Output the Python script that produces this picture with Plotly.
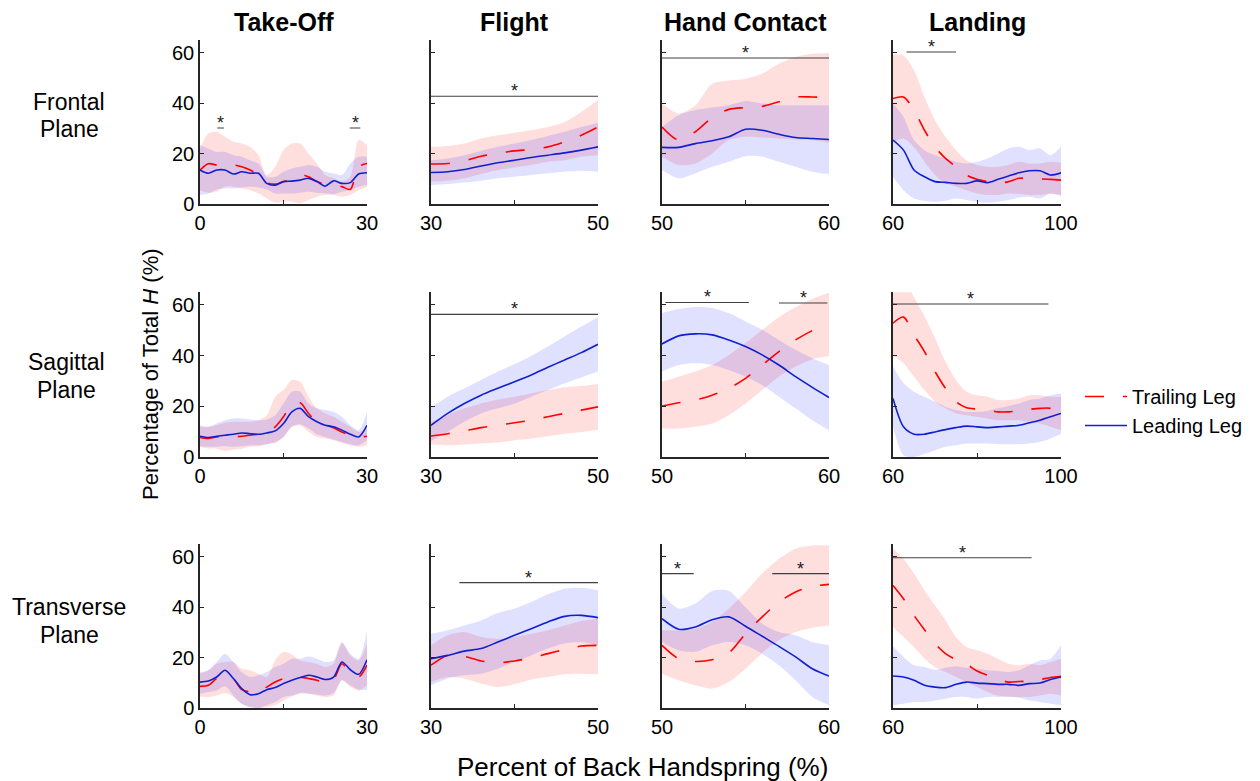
import plotly.graph_objects as go

# ---------------- x grids (percent of back handspring) ----------------
x_takeoff = [0, 1.5, 3, 4.5, 6, 7.5, 9, 10.5, 12, 13.5, 15, 16.5, 18, 19.5, 21, 22.5, 24, 25.5, 27, 28.5, 30]
x_flight = [30, 32, 34, 36, 38, 40, 42, 44, 46, 48, 50]
x_hand = [50, 51, 52, 53, 54, 55, 56, 57, 58, 59, 60]
x_landing = [60, 62.5, 65, 67.5, 70, 72.5, 75, 77.5, 80, 82.5, 85, 87.5, 90, 92.5, 95, 97.5, 100]

# ---------------- Frontal plane ----------------
fr_to_trail = [13.5, 16, 15.5, 15.5, 15.5, 14.8, 13.5, 11.5, 8.5, 7.9, 8.9, 10.2, 11.8, 10.8, 8.9, 7.9, 7.5, 6.9, 5.8, 14.8, 16.1]
fr_to_trail_lo = [5.5, 4.5, 4.9, 6.9, 6.9, 6.2, 5.5, 4.2, 2.2, 0.5, 0.9, 0.9, 0.3, 1.6, 2.9, 3.6, 3.6, 2.9, 3.6, 5.5, 6.9]
fr_to_trail_hi = [22, 28, 28.7, 26.7, 24.7, 24, 22.7, 19.4, 11.5, 14.8, 21.4, 24, 24, 20, 16.1, 11.5, 10.2, 8.9, 10.8, 25.4, 23.4]
fr_to_lead = [13.5, 12.2, 13.5, 13.5, 11.9, 12.8, 12.2, 12.2, 8.2, 7.5, 8.9, 9.1, 9.5, 10.2, 8.9, 7.1, 9.2, 8.2, 8.5, 11.9, 12.4]
fr_to_lead_lo = [3.6, 4.2, 5.8, 6.2, 6.2, 6.6, 6.9, 6.6, 5.8, 4.2, 4.2, 4.2, 4.5, 4.9, 4.5, 4.2, 4, 4.9, 5.5, 6.9, 7.5]
fr_to_lead_hi = [23.4, 22, 20.7, 20.7, 19.4, 18.8, 17.4, 16.1, 10.8, 10.8, 12.8, 14.1, 14.8, 15.5, 14.8, 12.8, 12.2, 11.5, 16.1, 18.8, 18.8]

fr_fl_trail = [15.9, 16.1, 17.2, 19, 20.1, 21.1, 21.7, 22.7, 24.7, 27.3, 30.6]
fr_fl_trail_lo = [8.9, 9.2, 10.2, 11.9, 13.5, 14.5, 15.5, 16.8, 17.4, 18.8, 19.4]
fr_fl_trail_hi = [22.7, 23, 24, 26, 27.3, 28.3, 29.3, 30.6, 32.6, 36.6, 41.2]
fr_fl_lead = [12.5, 12.8, 13.7, 15.1, 16.4, 17.4, 18.5, 19.4, 20.3, 21.4, 22.7]
fr_fl_lead_lo = [7.5, 7.9, 8.5, 9.2, 10.2, 10.8, 11.5, 12.2, 12.8, 13.2, 12.8]
fr_fl_lead_hi = [17.4, 18.1, 19.4, 21.1, 22.7, 24, 25.4, 27, 28.7, 30.6, 32.2]

fr_hc_trail = [30.6, 25.4, 28.7, 34.3, 37.6, 38.3, 38.8, 40.6, 42.5, 42.5, 42.3]
fr_hc_trail_lo = [18.8, 15.5, 16.1, 20.1, 25.4, 26.7, 26.4, 26, 25.6, 25.4, 24.3]
fr_hc_trail_hi = [39.9, 35.9, 39.2, 47.8, 49.1, 49.8, 51.8, 55.7, 58.4, 59.7, 60]
fr_hc_lead = [22.5, 22.5, 24, 25.1, 26.7, 29.7, 29.3, 27.7, 26.4, 26, 25.6]
fr_hc_lead_lo = [13.5, 10.2, 12.2, 14.8, 16.8, 19, 18.8, 16.8, 14.8, 12.8, 11.9]
fr_hc_lead_hi = [30.6, 35.3, 37.3, 38.3, 39.2, 40.9, 39.9, 39.2, 39.2, 39.2, 39.2]

fr_la_trail = [41.9, 42.5, 37.3, 29.3, 22.7, 18.1, 14.8, 11.5, 9.8, 8.9, 8.2, 8.9, 10.2, 10.2, 10, 9.8, 9.5]
fr_la_trail_lo = [24.4, 26, 22.5, 16.8, 11.5, 8.2, 6.9, 5.5, 4.2, 3.6, 3.6, 4.2, 4, 3.6, 3.6, 4.2, 3.6]
fr_la_trail_hi = [59.4, 59, 53.1, 42.5, 33.3, 26.7, 21.4, 17.4, 15.5, 14.8, 14.8, 15.5, 16.8, 16.1, 16.1, 16.8, 16.4]
fr_la_lead = [25.4, 21.4, 13.5, 10.8, 8.9, 8.6, 8.2, 8.2, 9.2, 8.5, 9.8, 11.1, 12.4, 13.2, 13.2, 11.5, 12.4]
fr_la_lead_lo = [10.8, 5.5, 2.2, 1.3, 0.9, 1.3, 2.2, 1.6, 0.9, 0.5, 0.9, 1.6, 2.6, 2.9, 2.2, 4.2, 3.2]
fr_la_lead_hi = [39.9, 34.6, 25.4, 21.4, 19.4, 18.1, 16.8, 16.1, 16.8, 18.1, 20.1, 22.1, 22.7, 21.4, 22.1, 19.4, 22.7]

# ---------------- Sagittal plane ----------------
sa_to_trail = [7.7, 7.3, 7.9, 7.7, 7.9, 8.2, 8.6, 9, 9.5, 11.9, 15.9, 20.9, 21.4, 17.2, 13.9, 12.9, 11.5, 9.9, 8.6, 7.9, 8.2]
sa_to_trail_lo = [4, 3.3, 3.3, 2.4, 2.9, 3.3, 4, 4.2, 5, 5.5, 7.9, 11.9, 12.5, 9.9, 7.9, 7.3, 6.6, 5.5, 4.6, 4, 4.6]
sa_to_trail_hi = [11.9, 11.9, 12.5, 13.5, 13.9, 13.9, 13.9, 14.5, 16.5, 23.8, 26.4, 30.4, 29.7, 23.8, 19.2, 17.2, 15.9, 13.9, 11.9, 9.9, 11.2]
sa_to_lead = [8.2, 7.7, 8.2, 8.6, 9, 9.5, 9.2, 9, 9.5, 10.3, 13.2, 17.8, 19.2, 15.9, 13.9, 12.5, 11.9, 10.6, 9, 7.9, 12.5]
sa_to_lead_lo = [4.2, 4, 4, 4.2, 4, 4.2, 4.6, 4.6, 5, 5.9, 7.9, 11.9, 12.9, 11.2, 9, 7.9, 6.9, 5.9, 5, 4.6, 6.6]
sa_to_lead_hi = [12.5, 11.9, 13.2, 14.5, 15.2, 15.2, 14.8, 14.5, 14.8, 16.5, 21.1, 25.8, 25.8, 21.1, 19.2, 18.5, 17.8, 15.9, 12.5, 10.6, 17.8]

sa_fl_trail = [8.3, 9.2, 10.3, 11.6, 12.5, 13.5, 14.5, 15.9, 17.2, 18.5, 19.8]
sa_fl_trail_lo = [5, 4.6, 4.9, 5.3, 5.7, 6.6, 7.3, 8.2, 9.2, 9.9, 10.8]
sa_fl_trail_hi = [13.9, 16.5, 19.2, 21.1, 22.7, 23.8, 25.1, 26.4, 27.5, 28, 28.8]
sa_fl_lead = [12.5, 17.2, 21.1, 24.4, 27.1, 29.7, 32.4, 35.4, 38.3, 41.2, 44.5]
sa_fl_lead_lo = [6.3, 9.9, 13.9, 17.2, 19.2, 21.1, 23.8, 26.4, 29.1, 31.4, 33.7]
sa_fl_lead_hi = [19.6, 23.8, 27.1, 30.4, 33.7, 36.7, 39.9, 43.6, 47.6, 51.5, 55.2]

sa_hc_trail = [20.1, 21.4, 22.5, 24.4, 27.1, 31, 36.3, 41.6, 46.2, 49.9, 52.8]
sa_hc_trail_lo = [11.2, 11.2, 11.9, 13.2, 16.5, 21.1, 26.4, 31.7, 35.7, 38.6, 39.9]
sa_hc_trail_hi = [29.7, 31.7, 33.7, 36.3, 40.3, 44.9, 50.2, 55.2, 59.2, 62.4, 64.7]
sa_hc_lead = [44.6, 47.8, 48.6, 48.2, 46.2, 43.6, 40.3, 36.3, 31.7, 27.5, 23.5]
sa_hc_lead_lo = [33.7, 36.3, 37, 36.3, 34.3, 31.7, 28.4, 23.8, 19.2, 14.5, 10.6]
sa_hc_lead_hi = [56.8, 58.4, 59.2, 58.8, 56.8, 53.5, 50.2, 46.2, 42.3, 39, 36.3]

sa_la_trail = [52.8, 55.2, 48.2, 41.6, 33.7, 27.1, 21.8, 19.4, 18.9, 18.5, 17.8, 17.8, 18.2, 18.8, 19.2, 19.2, 17.2]
sa_la_trail_lo = [40.3, 37, 31.7, 26.4, 21.8, 19.2, 17.2, 16.5, 15.9, 15.2, 14.5, 14.5, 14.5, 13.9, 13.2, 11.9, 10.6]
sa_la_trail_hi = [66, 70, 63, 55.5, 46.9, 37.6, 30.4, 25.8, 24.4, 23.8, 22.5, 22.5, 23.1, 24.4, 24.4, 23.8, 23.8]
sa_la_lead = [23.1, 11.9, 9, 9, 9.9, 10.8, 11.6, 12.2, 11.9, 11.6, 11.9, 12.2, 12.5, 13.5, 14.5, 15.9, 17.2]
sa_la_lead_lo = [11.9, 0.7, 0, 1.3, 2.6, 4, 4.6, 5.3, 5.3, 5.3, 5, 5, 5, 5.3, 5.9, 7.3, 9.2]
sa_la_lead_hi = [35.7, 29.1, 25.8, 23.8, 21.8, 19.8, 18.5, 17.8, 17.8, 18.2, 19.2, 20.1, 21.1, 22.5, 23.1, 24.4, 25.1]

# ---------------- Transverse plane ----------------
tr_to_trail = [8.6, 9, 11.7, 12.6, 11.5, 7.3, 6.4, 6, 8.3, 10.3, 11.7, 12.6, 12.3, 11.7, 11, 9.7, 11.3, 17.6, 13.9, 12.3, 17]
tr_to_trail_lo = [4.6, 4.4, 5, 6, 4.4, 1.7, 0.4, 0, 0.4, 1.1, 3, 4.6, 5.7, 5.7, 5, 4.4, 5, 11, 8.3, 7, 9]
tr_to_trail_hi = [13.6, 15, 17.6, 18.3, 18.3, 15.6, 15, 13.6, 12.3, 18.9, 22.3, 21.3, 18.9, 18.3, 17.6, 16.3, 17.6, 25.6, 20.9, 18.9, 25.6]
tr_to_lead = [10.3, 10.7, 12.3, 15, 11.7, 7.7, 5.3, 5.7, 7.3, 8.1, 9.7, 11, 12.1, 13, 12.3, 11.3, 12.3, 18.3, 15.2, 13.4, 19.2]
tr_to_lead_lo = [5.7, 6.4, 7, 8.6, 5, 1.7, 0.4, 0, 1.1, 2.4, 4.4, 5, 6, 5.7, 5.4, 5, 6, 11, 9, 7.3, 7.3]
tr_to_lead_hi = [14.3, 15, 18.3, 21.6, 18.3, 14.3, 12.3, 13, 14.3, 16.3, 17.6, 19.6, 19.6, 20.5, 19.6, 18.3, 18.9, 26.2, 21.6, 19.6, 30.9]

tr_fl_trail = [17, 20.9, 20.5, 18.7, 17.9, 18.7, 19.9, 21.6, 23.2, 24.6, 24.9]
tr_fl_trail_lo = [10.3, 12.3, 11.7, 9.7, 8.3, 9.4, 11.3, 12.3, 13.4, 13.6, 13.4]
tr_fl_trail_hi = [24.9, 28.9, 30.2, 28.2, 27.5, 28.2, 29.5, 30.9, 32.8, 34.6, 35.5]
tr_fl_lead = [19.6, 20.9, 22.6, 23.6, 26.2, 28.9, 31.5, 34.2, 36.4, 36.8, 35.9]
tr_fl_lead_lo = [9, 11.7, 13, 13.6, 15.6, 18.3, 20.9, 23.6, 25.6, 26.2, 24.9]
tr_fl_lead_hi = [29.5, 30.9, 32.8, 34.8, 37.7, 39.5, 42.1, 45.2, 47.4, 47.8, 46.8]

tr_hc_trail = [24.9, 19.6, 18.5, 19.2, 21.9, 29.5, 36.2, 42.1, 46.1, 48.3, 49.1]
tr_hc_trail_lo = [13.6, 11, 9, 7.7, 10.3, 15.6, 21.9, 26.9, 30.2, 31.9, 32.8]
tr_hc_trail_hi = [30.9, 30.9, 31.5, 34.2, 39.5, 46.1, 53.4, 59.3, 63.3, 64.6, 64.6]
tr_hc_lead = [35.5, 31.3, 32.2, 35.1, 36.2, 32.5, 28.5, 24.5, 20.3, 15.6, 12.7]
tr_hc_lead_lo = [26.2, 22.9, 22.3, 24.9, 26.2, 24.9, 21.6, 17, 11, 4.4, 1.1]
tr_hc_lead_hi = [45.4, 39.5, 41.5, 46.5, 46.5, 40, 33.5, 30.2, 28.9, 26.2, 24.9]

tr_la_trail = [48.7, 43.4, 36.8, 31.1, 25.6, 21.6, 19.2, 17.4, 14.7, 13, 11.4, 10.3, 10.5, 10.7, 11.3, 12.1, 12.6]
tr_la_trail_lo = [32.2, 28.2, 24.2, 19.6, 16.3, 14.3, 12.3, 10.3, 8.3, 6.4, 5, 4.6, 4.4, 4.4, 5, 5.7, 5]
tr_la_trail_hi = [63.3, 59.3, 53.4, 46.8, 40.8, 34.8, 28.2, 24.2, 22.9, 21.6, 19.6, 17.6, 17, 17.6, 17, 18.3, 19.6]
tr_la_lead = [12.7, 12.3, 11, 9, 8.3, 8.1, 9.4, 10.3, 9.9, 9.7, 9.4, 9.4, 9, 9.7, 9.9, 11.3, 12.3]
tr_la_lead_lo = [1.1, 1.7, 2.4, 2.4, 3, 3.7, 4.4, 4.4, 3.7, 4.4, 4.4, 4.4, 4.1, 3, 2.4, 1.7, 1.1]
tr_la_lead_hi = [24.5, 20.3, 17, 16.3, 15.2, 16, 16.6, 16, 15.6, 15, 14.7, 14.3, 15, 17, 18.9, 19.6, 24.9]

# ---------------- significance bars: (row, col, x_start, x_end, y) ----------------
sig_rows = [1, 1, 1, 1, 1, 2, 2, 2, 2, 3, 3, 3, 3]
sig_cols = [1, 1, 2, 3, 4, 2, 3, 3, 4, 2, 3, 3, 4]
sig_x0 = [3.1, 26.9, 30, 50, 63.2, 30, 50.2, 57, 60, 33.4, 50, 56.6, 60]
sig_x1 = [4.3, 28.8, 50, 60, 75, 50, 55.2, 59.9, 97, 50, 51.9, 60, 93]
sig_y = [30.2, 30.2, 42.8, 58, 60.4, 56.3, 61, 60.8, 60.4, 49.8, 53.4, 53.4, 59.7]

# ---------------- labels ----------------
phase_titles = ["Take-Off", "Flight", "Hand Contact", "Landing"]
plane_names = ["Frontal", "Sagittal", "Transverse"]
plane_word = "Plane"
x_grids = [x_takeoff, x_flight, x_hand, x_landing]
x_ranges = [[0, 30], [30, 50], [50, 60], [60, 100]]
x_tickvals = [[0, 15, 30], [30, 40, 50], [50, 55, 60], [60, 80, 100]]
x_ticktext = [["0", "", "30"], ["30", "", "50"], ["50", "", "60"], ["60", "", "100"]]
y_tickvals = [0, 20, 40, 60]

panels = [
    [(fr_to_trail, fr_to_trail_lo, fr_to_trail_hi, fr_to_lead, fr_to_lead_lo, fr_to_lead_hi),
     (fr_fl_trail, fr_fl_trail_lo, fr_fl_trail_hi, fr_fl_lead, fr_fl_lead_lo, fr_fl_lead_hi),
     (fr_hc_trail, fr_hc_trail_lo, fr_hc_trail_hi, fr_hc_lead, fr_hc_lead_lo, fr_hc_lead_hi),
     (fr_la_trail, fr_la_trail_lo, fr_la_trail_hi, fr_la_lead, fr_la_lead_lo, fr_la_lead_hi)],
    [(sa_to_trail, sa_to_trail_lo, sa_to_trail_hi, sa_to_lead, sa_to_lead_lo, sa_to_lead_hi),
     (sa_fl_trail, sa_fl_trail_lo, sa_fl_trail_hi, sa_fl_lead, sa_fl_lead_lo, sa_fl_lead_hi),
     (sa_hc_trail, sa_hc_trail_lo, sa_hc_trail_hi, sa_hc_lead, sa_hc_lead_lo, sa_hc_lead_hi),
     (sa_la_trail, sa_la_trail_lo, sa_la_trail_hi, sa_la_lead, sa_la_lead_lo, sa_la_lead_hi)],
    [(tr_to_trail, tr_to_trail_lo, tr_to_trail_hi, tr_to_lead, tr_to_lead_lo, tr_to_lead_hi),
     (tr_fl_trail, tr_fl_trail_lo, tr_fl_trail_hi, tr_fl_lead, tr_fl_lead_lo, tr_fl_lead_hi),
     (tr_hc_trail, tr_hc_trail_lo, tr_hc_trail_hi, tr_hc_lead, tr_hc_lead_lo, tr_hc_lead_hi),
     (tr_la_trail, tr_la_trail_lo, tr_la_trail_hi, tr_la_lead, tr_la_lead_lo, tr_la_lead_hi)],
]

# ---------------- styling ----------------
W, H = 1260, 781
OFF = 8  # page offset of the figure inside the browser window
FONT = "Liberation Sans, Arial, sans-serif"
RED = "#FF0000"
BLUE = "#1020D0"
RED_FILL = "rgba(255,0,0,0.13)"
BLUE_FILL = "rgba(0,0,255,0.12)"
AXIS_COLOR = "#262626"
SIG_COLOR = "#404040"


def fx(px):
    return (px - OFF) / W


def fy(py):
    return 1 - (py - OFF) / H


col_px = [(200, 367), (431, 598), (662, 829), (893, 1061)]
row_px = [(40.4, 204), (292.3, 457), (544.4, 708)]  # (top, bottom) page pixel rows

fig = go.Figure()
layout = dict(
    width=W, height=H,
    autosize=False,
    margin=dict(l=0, r=0, t=0, b=0, pad=0, autoexpand=False),
    paper_bgcolor="white", plot_bgcolor="white",
    font=dict(family=FONT, color="black", size=20),
    showlegend=True,
    legend=dict(x=fx(1080), y=fy(377), xanchor="left", yanchor="top",
                font=dict(size=20, family=FONT), bgcolor="rgba(0,0,0,0)",
                traceorder="normal", tracegroupgap=0, itemwidth=42),
)

annotations = []
for r in range(3):
    for c in range(4):
        k = r * 4 + c + 1
        xa = "x" if k == 1 else f"x{k}"
        ya = "y" if k == 1 else f"y{k}"
        xs = x_grids[c]
        tr, tr_lo, tr_hi, ld, ld_lo, ld_hi = panels[r][c]
        for lo, hi, fc in ((tr_lo, tr_hi, RED_FILL), (ld_lo, ld_hi, BLUE_FILL)):
            fig.add_trace(go.Scatter(x=xs, y=lo, mode="lines", line=dict(width=0, shape="spline", smoothing=0.8),
                                     hoverinfo="skip", showlegend=False, xaxis=xa, yaxis=ya))
            fig.add_trace(go.Scatter(x=xs, y=hi, mode="lines", line=dict(width=0, shape="spline", smoothing=0.8),
                                     fill="tonexty", fillcolor=fc, hoverinfo="skip", showlegend=False,
                                     xaxis=xa, yaxis=ya))
        fig.add_trace(go.Scatter(x=xs, y=tr, mode="lines", name="Trailing Leg",
                                 line=dict(color=RED, width=1.6, dash="19px,19px", shape="spline", smoothing=0.8),
                                 showlegend=(k == 1), xaxis=xa, yaxis=ya))
        fig.add_trace(go.Scatter(x=xs, y=ld, mode="lines", name="Leading Leg",
                                 line=dict(color=BLUE, width=1.6, shape="spline", smoothing=0.8),
                                 showlegend=(k == 1), xaxis=xa, yaxis=ya))

        x0p, x1p = col_px[c]
        t, b = row_px[r]
        axis_common = dict(showline=True, linecolor=AXIS_COLOR, linewidth=1.5, ticks="inside",
                           ticklen=4, tickwidth=1.2, tickcolor=AXIS_COLOR, showgrid=False,
                           zeroline=False, mirror=False, fixedrange=True, automargin=False)
        layout["xaxis" if k == 1 else f"xaxis{k}"] = dict(
            domain=[fx(x0p), fx(x1p)], range=x_ranges[c], anchor=ya,
            tickvals=x_tickvals[c], ticktext=x_ticktext[c],
            tickfont=dict(size=20, family=FONT, color="black"), **axis_common)
        layout["yaxis" if k == 1 else f"yaxis{k}"] = dict(
            domain=[fy(b), fy(t)], range=[0, 65], anchor=xa,
            tickvals=y_tickvals, showticklabels=(c == 0),
            tickfont=dict(size=20, family=FONT, color="black"), **axis_common)

# significance bars
for i in range(len(sig_rows)):
    k = (sig_rows[i] - 1) * 4 + sig_cols[i]
    xa = "x" if k == 1 else f"x{k}"
    ya = "y" if k == 1 else f"y{k}"
    fig.add_trace(go.Scatter(x=[sig_x0[i], sig_x1[i]], y=[sig_y[i], sig_y[i]], mode="lines",
                             line=dict(color=SIG_COLOR, width=1.1), hoverinfo="skip",
                             showlegend=False, xaxis=xa, yaxis=ya))
    annotations.append(dict(x=(sig_x0[i] + sig_x1[i]) / 2, y=sig_y[i], xref=xa, yref=ya,
                            text="*", showarrow=False, xanchor="center", yanchor="bottom", yshift=-7,
                            font=dict(size=18, family=FONT, color="#202020")))


def paper_text(x, y, text, size, angle=0):
    annotations.append(dict(x=fx(x), y=fy(y), xref="paper", yref="paper", text=text,
                            showarrow=False, xanchor="center", yanchor="middle", align="center",
                            textangle=angle, font=dict(size=size, family=FONT, color="black")))


# column titles
for c in range(4):
    x0p, x1p = col_px[c]
    paper_text((x0p + x1p) / 2, 22, f"<b>{phase_titles[c]}</b>", 25)
# row titles (two lines each)
row_line1_y = [102, 362, 607]
row_line2_y = [129, 390, 635]
row_label_x = [69, 66, 69]
for r in range(3):
    paper_text(row_label_x[r], row_line1_y[r], plane_names[r], 23)
    paper_text(row_label_x[r], row_line2_y[r], plane_word, 23)
# axis titles
paper_text(150, 374, "Percentage of Total <i>H</i> (%)", 22, angle=-90)
paper_text(642, 767, "Percent of Back Handspring (%)", 26)

layout["annotations"] = annotations
fig.update_layout(**layout)
fig.write_html("out.html")
